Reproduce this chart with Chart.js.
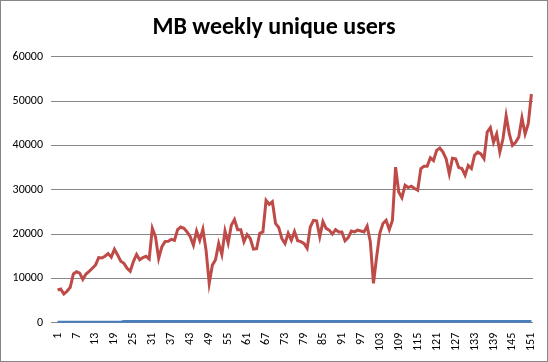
<!DOCTYPE html>
<html>
<head>
<meta charset="utf-8">
<script src="https://cdn.jsdelivr.net/npm/chart.js@4/dist/chart.umd.min.js"></script>
<style>
    html, body { margin: 0; padding: 0; background: #fff; }
    #wrap { width: 546px; height: 360px; border: 1px solid #868686; }
</style>
</head>
<body>
<div id="wrap"><canvas id="chart" width="546" height="360"></canvas></div>
<script>
// Weeks 1..151
const weeks = Array.from({ length: 151 }, (_, i) => String(i + 1));

// Only every 6th week is labelled on the axis
const tickLabels = ["1", "7", "13", "19", "25", "31", "37", "43", "49", "55", "61", "67", "73", "79",
    "85", "91", "97", "103", "109", "115", "121", "127", "133", "139", "145", "151"];

// Unique users per week (red series)
const uniqueUsers = [
    7400, 7600, 6500, 7100, 8000, 11000, 11500, 11200, 9800, 11000,
    11600, 12300, 13000, 14700, 14600, 15000, 15600, 14800, 16600, 15300,
    13900, 13400, 12300, 11600, 13800, 15400, 14200, 14700, 15000, 14400,
    21300, 19400, 14500, 17100, 18300, 18400, 18800, 18600, 21000, 21600,
    21300, 20500, 19400, 17500, 20700, 18600, 21100, 16400, 8900, 13000,
    14200, 17900, 15400, 20700, 18000, 22000, 23300, 21000, 21000, 18300,
    19900, 19000, 16600, 16700, 20200, 20500, 27600, 26700, 27300, 22400,
    21500, 19000, 17900, 20200, 18600, 20600, 18500, 18300, 17900, 16800,
    21600, 23100, 23000, 19400, 22800, 21300, 20900, 20000, 21000, 20500,
    20500, 18500, 19200, 20700, 20500, 20900, 20700, 20500, 21800, 18300,
    8900, 14900, 20200, 22400, 23100, 21000, 23100, 35100, 29500, 28200,
    31000, 30500, 30800, 30300, 29900, 34800, 35300, 35300, 37200, 36600,
    38900, 39400, 38500, 37000, 33600, 37100, 37000, 35000, 34800, 33300,
    35500, 34800, 37800, 38500, 38100, 37000, 43000, 44000, 40700, 42600,
    38500, 41500, 46700, 42600, 40000, 40700, 41900, 46200, 42600, 44900,
    51600
];

// Second series, almost flat near zero (blue)
const otherSeries = [
    100, 100, 100, 100, 100, 100, 100, 100, 100, 100,
    100, 100, 100, 100, 100, 100, 100, 100, 100, 100,
    100, 300, 300, 300, 300, 300, 300, 300, 300, 300,
    300, 300, 300, 300, 300, 300, 300, 300, 300, 300,
    300, 300, 300, 300, 300, 300, 300, 300, 300, 300,
    300, 300, 300, 300, 300, 300, 300, 300, 300, 300,
    300, 300, 300, 300, 300, 300, 300, 300, 300, 300,
    300, 300, 300, 300, 300, 300, 300, 300, 300, 300,
    300, 300, 300, 300, 300, 300, 300, 300, 300, 300,
    300, 300, 300, 300, 300, 300, 300, 300, 300, 300,
    300, 300, 300, 300, 300, 300, 300, 300, 300, 300,
    300, 300, 300, 300, 300, 300, 300, 300, 300, 300,
    300, 300, 300, 300, 300, 300, 300, 300, 300, 300,
    300, 300, 300, 300, 300, 300, 300, 300, 300, 300,
    300, 300, 300, 300, 300, 300, 300, 300, 300, 300,
    300
];

const yTicks = [0, 10000, 20000, 30000, 40000, 50000, 60000];

const fontFamily = "Carlito, Lato, 'Liberation Sans', sans-serif";

const ctx = document.getElementById("chart").getContext("2d");
new Chart(ctx, {
    type: "line",
    data: {
        labels: weeks,
        datasets: [
            {
                label: "Unique users",
                data: uniqueUsers,
                borderColor: "#BE4B48",
                borderWidth: 3,
                pointRadius: 0,
                tension: 0,
                fill: false
            },
            {
                label: "Other",
                data: otherSeries,
                borderColor: "#4A7EBB",
                borderWidth: 3,
                pointRadius: 0,
                tension: 0,
                fill: false
            }
        ]
    },
    options: {
        responsive: false,
        animation: false,
        layout: {
            padding: { left: 0, right: 0, top: 0, bottom: 0 }
        },
        plugins: {
            legend: { display: false },
            tooltip: { enabled: false },
            title: {
                display: true,
                text: "MB weekly unique users",
                color: "#000",
                font: { family: fontFamily, size: 24, weight: "bold" },
                padding: { top: 13, bottom: 14 }
            }
        },
        scales: {
            x: {
                offset: true,
                grid: { display: false, drawTicks: false },
                border: { display: false },
                afterFit: function (scale) {
                    // keep the plot ending where the reference ends
                    scale.paddingLeft = 0;
                    scale.paddingRight = 14;
                },
                ticks: {
                    autoSkip: false,
                    maxRotation: 90,
                    minRotation: 90,
                    padding: 10,
                    color: "#000",
                    font: { family: fontFamily, size: 12 },
                    callback: function (value) {
                        const lbl = this.getLabelForValue(value);
                        return tickLabels.includes(lbl) ? lbl : null;
                    }
                }
            },
            y: {
                min: 0,
                max: 60000,
                afterBuildTicks: function (scale) {
                    scale.ticks = yTicks.map(v => ({ value: v }));
                },
                afterFit: function (scale) {
                    scale.width = 55;
                },
                grid: {
                    color: "#868686",
                    lineWidth: 1,
                    drawTicks: true,
                    tickLength: 5
                },
                border: { display: false },
                ticks: {
                    padding: 8,
                    color: "#000",
                    font: { family: fontFamily, size: 12 },
                    callback: function (value) {
                        return String(value);
                    }
                }
            }
        }
    }
});
</script>
</body>
</html>
